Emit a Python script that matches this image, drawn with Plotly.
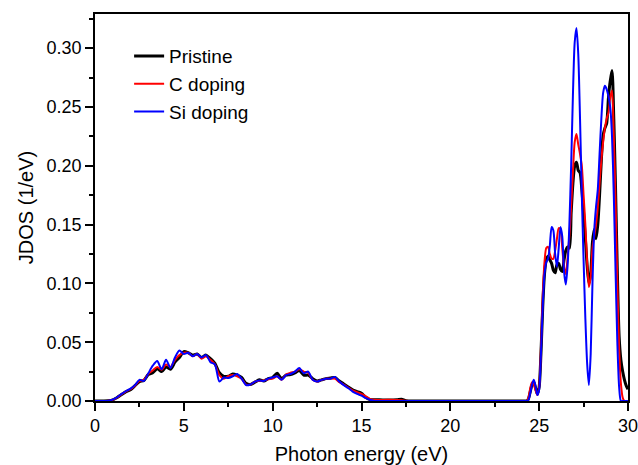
import plotly.graph_objects as go

energy = [
    0, 0.25, 0.5, 0.75, 1.0, 1.25, 1.5, 1.75, 2.0, 2.25, 2.5, 2.75, 3.0, 3.25, 3.5, 3.75,
    4.0, 4.25, 4.5, 4.75, 5.0, 5.25, 5.5, 5.75, 6.0, 6.25, 6.5, 6.75, 7.0, 7.25, 7.5, 7.75,
    8.0, 8.25, 8.5, 8.75, 9.0, 9.25, 9.5, 9.75, 10.0, 10.25, 10.5, 10.75, 11.0, 11.25, 11.5, 11.75,
    12.0, 12.25, 12.5, 12.75, 13.0, 13.25, 13.5, 13.75, 14.0, 14.25, 14.5, 14.75, 15.0, 15.25, 15.5, 15.75,
    16.0, 16.5, 17.0, 17.25, 17.5, 18.0, 20.0, 22.0, 24.0,
    24.2, 24.3, 24.4, 24.5, 24.6, 24.7, 24.8, 24.9, 25.0, 25.1, 25.2, 25.3, 25.4, 25.5, 25.6, 25.7,
    25.8, 25.9, 26.0, 26.1, 26.2, 26.3, 26.4, 26.5, 26.6, 26.7, 26.8, 26.9, 27.0, 27.1, 27.2, 27.3,
    27.4, 27.5, 27.6, 27.7, 27.8, 27.9, 28.0, 28.1, 28.2, 28.3, 28.4, 28.5, 28.6, 28.7, 28.8, 28.9,
    29.0, 29.1, 29.2, 29.3, 29.4, 29.5, 29.6, 29.7, 29.8, 29.9, 30.0,
]

pristine = [
    0, 0, 0, 0.0002, 0.001, 0.003, 0.0055, 0.008, 0.0095, 0.013, 0.0165, 0.0175, 0.0225, 0.024, 0.0275, 0.025,
    0.029, 0.027, 0.033, 0.037, 0.042, 0.041, 0.039, 0.040, 0.037, 0.039, 0.036, 0.032, 0.024, 0.021, 0.021, 0.023,
    0.022, 0.020, 0.015, 0.014, 0.016, 0.018, 0.017, 0.019, 0.020, 0.0235, 0.019, 0.022, 0.0225, 0.024, 0.026, 0.022,
    0.022, 0.019, 0.017, 0.018, 0.019, 0.0195, 0.020, 0.017, 0.0145, 0.012, 0.0095, 0.008, 0.0065, 0.003, 0.0012, 0.001,
    0.001, 0.0008, 0.001, 0.0015, 0.0002, 0, 0, 0, 0,
    0, 0, 0.002, 0.008, 0.014, 0.016, 0.011, 0.006, 0.012, 0.040, 0.080, 0.108, 0.120, 0.123, 0.120, 0.117,
    0.111, 0.109, 0.116, 0.117, 0.112, 0.110, 0.120, 0.128, 0.131, 0.130, 0.160, 0.185, 0.200, 0.203, 0.196, 0.194,
    0.180, 0.160, 0.138, 0.115, 0.100, 0.108, 0.135, 0.146, 0.138, 0.150, 0.175, 0.205, 0.226, 0.232, 0.236, 0.258,
    0.272, 0.281, 0.240, 0.180, 0.110, 0.055, 0.035, 0.025, 0.018, 0.013, 0.010,
]

c_doping = [
    0, 0, 0, 0.0002, 0.001, 0.003, 0.0058, 0.0082, 0.010, 0.013, 0.017, 0.018, 0.023, 0.026, 0.029, 0.0265,
    0.031, 0.029, 0.035, 0.039, 0.041, 0.041, 0.038, 0.040, 0.036, 0.038, 0.035, 0.031, 0.022, 0.019, 0.021, 0.022,
    0.021, 0.019, 0.014, 0.014, 0.0165, 0.017, 0.0175, 0.0185, 0.019, 0.021, 0.018, 0.0225, 0.024, 0.025, 0.027, 0.025,
    0.024, 0.018, 0.0165, 0.018, 0.019, 0.019, 0.019, 0.016, 0.014, 0.0115, 0.009, 0.0075, 0.006, 0.004, 0.0015, 0.001,
    0.0008, 0.001, 0.0008, 0.0006, 0.0002, 0, 0, 0, 0,
    0, 0, 0.003, 0.011, 0.016, 0.014, 0.009, 0.005, 0.012, 0.045, 0.090, 0.118, 0.130, 0.131, 0.125, 0.121,
    0.121, 0.128, 0.138, 0.147, 0.146, 0.130, 0.114, 0.108, 0.122, 0.140, 0.165, 0.195, 0.220, 0.227, 0.218, 0.210,
    0.200, 0.175, 0.150, 0.118, 0.097, 0.105, 0.130, 0.140, 0.150, 0.165, 0.185, 0.205, 0.220, 0.232, 0.240, 0.245,
    0.258, 0.264, 0.225, 0.170, 0.100, 0.045, 0.015, 0.003, 0, 0, 0,
]

si_doping = [
    0, 0, 0, 0.0003, 0.0012, 0.0032, 0.006, 0.0085, 0.0105, 0.0135, 0.018, 0.017, 0.0235, 0.030, 0.034, 0.027,
    0.035, 0.028, 0.037, 0.043, 0.040, 0.041, 0.038, 0.040, 0.037, 0.039, 0.033, 0.031, 0.0165, 0.020, 0.0195, 0.021,
    0.023, 0.019, 0.0135, 0.014, 0.0165, 0.0175, 0.017, 0.019, 0.020, 0.021, 0.018, 0.022, 0.023, 0.025, 0.028, 0.0235,
    0.025, 0.018, 0.0165, 0.018, 0.019, 0.019, 0.0205, 0.0165, 0.0135, 0.011, 0.008, 0.006, 0.0045, 0.0025, 0.0008, 0,
    0, 0, 0, 0, 0, 0, 0, 0, 0,
    0, 0, 0.001, 0.007, 0.014, 0.018, 0.012, 0.005, 0.010, 0.040, 0.080, 0.108, 0.118, 0.121, 0.132, 0.148,
    0.145, 0.125, 0.114, 0.130, 0.148, 0.140, 0.110, 0.099, 0.115, 0.150, 0.200, 0.260, 0.305, 0.317, 0.295, 0.240,
    0.175, 0.120, 0.070, 0.032, 0.0136, 0.040, 0.100, 0.145, 0.165, 0.180, 0.210, 0.240, 0.262, 0.268, 0.265, 0.259,
    0.250, 0.225, 0.175, 0.110, 0.050, 0.012, 0, 0, 0, 0, 0,
]

series_names = ["Pristine", "C doping", "Si doping"]
series_values = [pristine, c_doping, si_doping]
colors = ["#000000", "#ff0000", "#0000ff"]
widths = [3, 2, 2]

fig = go.Figure()
for name, vals, col, w in zip(series_names, series_values, colors, widths):
    fig.add_trace(go.Scatter(
        x=energy, y=vals, mode="lines", name=name,
        line=dict(color=col, width=w, shape="spline", smoothing=0.7),
    ))

font_family = "Liberation Sans, Arial, sans-serif"
fig.update_layout(
    width=638, height=465,
    margin=dict(l=95, r=10, t=14, b=64),
    plot_bgcolor="white", paper_bgcolor="white",
    font=dict(family=font_family, size=18, color="#000000"),
    showlegend=True,
    legend=dict(x=0.064, y=0.94, xanchor="left", yanchor="top",
                font=dict(size=19, color="#000000"), bgcolor="rgba(0,0,0,0)",
                tracegroupgap=0),
    xaxis=dict(
        range=[0, 30], tickvals=[0, 5, 10, 15, 20, 25, 30],
        ticks="outside", ticklen=8, tickwidth=1.5, tickcolor="#000",
        minor=dict(dtick=2.5, tick0=0, ticks="outside", ticklen=4, tickwidth=1.5, tickcolor="#000"),
        showline=True, linecolor="#000", linewidth=1.5, mirror=True,
        showgrid=False, zeroline=False, automargin=False,
        ticklabeloverflow="allow",
        title=dict(text="Photon energy (eV)", font=dict(size=20), standoff=14),
        tickfont=dict(size=18),
    ),
    yaxis=dict(
        range=[0, 0.329], tickvals=[0, 0.05, 0.10, 0.15, 0.20, 0.25, 0.30],
        tickformat=".2f",
        ticks="outside", ticklen=8, tickwidth=1.5, tickcolor="#000",
        minor=dict(dtick=0.025, tick0=0, ticks="outside", ticklen=4, tickwidth=1.5, tickcolor="#000"),
        showline=True, linecolor="#000", linewidth=1.5, mirror=True,
        showgrid=False, zeroline=False, automargin=False,
        ticklabeloverflow="allow",
        title=dict(text="JDOS (1/eV)", font=dict(size=20), standoff=8),
        tickfont=dict(size=18),
    ),
)

fig.write_html("out.html")
